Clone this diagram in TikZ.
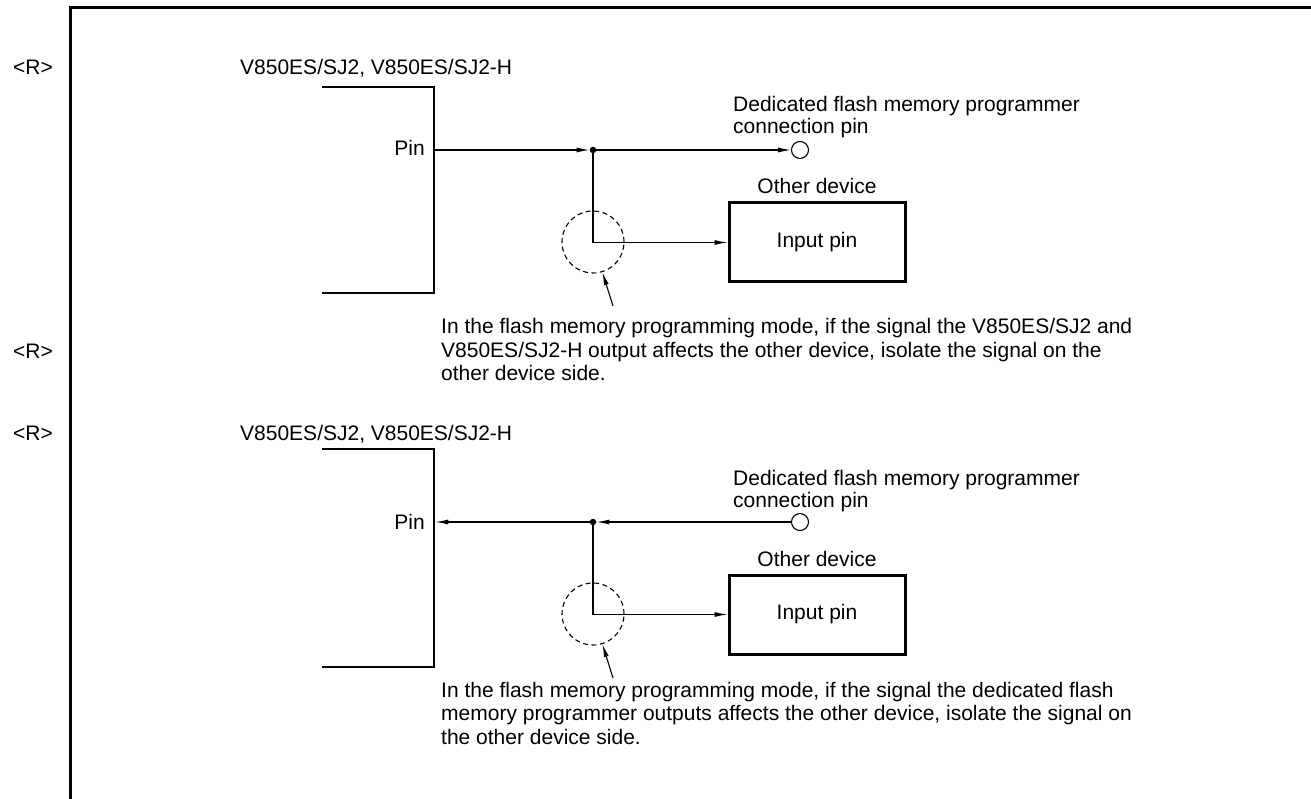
\documentclass[tikz,border=0pt]{standalone}
\usepackage{fontspec}
\setmainfont{Liberation Sans}
\usetikzlibrary{arrows.meta}
\begin{document}
\begin{tikzpicture}[x=1pt,y=-1pt,
  txt/.style={inner sep=0pt, anchor=base west, font=\fontsize{21}{22}\selectfont},
  notetxt/.style={inner sep=0pt, anchor=base west, font=\fontsize{21}{23.5}\selectfont},
  wire/.style={line width=1.1pt},
  arr/.style={-{Latex[length=13pt,width=5pt]}},
  chip/.style={line width=2.5pt, line join=miter},
  devbox/.style={draw, line width=3pt, minimum width=176pt, minimum height=79pt, inner sep=0pt, font=\fontsize{21}{22}\selectfont},
  pinc/.style={circle, draw, line width=1.1pt, minimum size=17pt, inner sep=0pt},
  jdot/.style={circle, fill, minimum size=6.5pt, inner sep=0pt},
  zone/.style={circle, draw, dash pattern=on 5pt off 3.5pt, line width=1.1pt, minimum size=62pt, inner sep=0pt},
  frame/.style={line width=3pt, line join=miter}]
\useasboundingbox (0,0) rectangle (1311,799);

% frame
\coordinate (fb) at (70,799);
\coordinate (fc) at (70,8);
\coordinate (fr) at (1311,8);
\draw[frame] (fb) -- (fc) -- (fr);

% revision marks
\node[txt] (r1) at (13,75) {<R>};
\node[txt] (r2) at (13,358) {<R>};
\node[txt] (r3) at (13,440) {<R>};

% ---------- upper diagram ----------
\node[txt] (titleA) at (240,75) {V850ES/SJ2, V850ES/SJ2-H};
\draw[chip] (322,87) -- (434,87) -- (434,293) -- (322,293);
\coordinate (pinA) at (434,150);
\node[txt, anchor=base east] (pinlabA) at (425,155.5) {Pin};
\node[jdot] (jA) at (593,150) {};
\node[pinc] (cA) at (800,150) {};
\node[txt] (dedA) at (733,112) {\vtop{\hbox{Dedicated flash memory programmer}\hbox{connection pin}}};
\node[txt, anchor=base] (othA) at (817,194) {Other device};
\node[devbox] (devA) at (817,242.5) {Input pin};
\node[zone] (zA) at (593,242) {};
\draw[wire,arr] (pinA) -- (jA.west);
\draw[wire,arr] (jA) -- (cA.west);
\draw[wire,arr] (jA) |- (devA.west);
\coordinate (tA) at (613,306);
\draw[wire,arr] (tA) -- (zA);
\node[notetxt] (noteA) at (441,334) {\vtop{\hbox{In the flash memory programming mode, if the signal the V850ES/SJ2 and}\hbox{V850ES/SJ2-H output affects the other device, isolate the signal on the}\hbox{other device side.}}};

% ---------- lower diagram ----------
\node[txt] (titleB) at (240,440) {V850ES/SJ2, V850ES/SJ2-H};
\draw[chip] (322,449) -- (434,449) -- (434,667) -- (322,667);
\coordinate (pinB) at (435.3,522);
\node[txt, anchor=base east] (pinlabB) at (425,529.5) {Pin};
\node[jdot] (jB) at (593,522) {};
\node[pinc] (cB) at (800,522) {};
\node[txt] (dedB) at (733,485) {\vtop{\hbox{Dedicated flash memory programmer}\hbox{connection pin}}};
\node[txt, anchor=base] (othB) at (817,566) {Other device};
\node[devbox] (devB) at (817,614.5) {Input pin};
\node[zone] (zB) at (593,614) {};
\draw[wire,arr] (cB.west) -- (jB.east);
\draw[wire,arr] (jB) -- (pinB);
\draw[wire,arr] (jB) |- (devB.west);
\coordinate (tB) at (613,678);
\draw[wire,arr] (tB) -- (zB);
\node[notetxt] (noteB) at (441,697) {\vtop{\hbox{In the flash memory programming mode, if the signal the dedicated flash}\hbox{memory programmer outputs affects the other device, isolate the signal on}\hbox{the other device side.}}};
\end{tikzpicture}
\end{document}
